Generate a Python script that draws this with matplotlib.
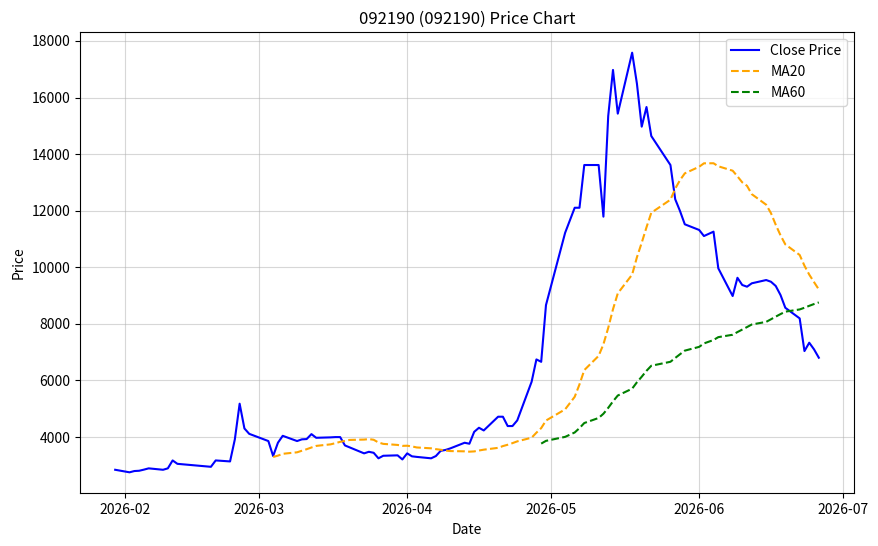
import matplotlib
matplotlib.use("Agg")
import matplotlib.pyplot as plt
import matplotlib.dates as mdates
import pandas as pd

plt.rcParams['font.family'] = ['Noto Sans CJK KR', 'DejaVu Sans']

dates = [
    "2026-01-30", "2026-02-02", "2026-02-03", "2026-02-04", "2026-02-05", "2026-02-06",
    "2026-02-09", "2026-02-10", "2026-02-11", "2026-02-12", "2026-02-13",
    "2026-02-19", "2026-02-20", "2026-02-23", "2026-02-24", "2026-02-25", "2026-02-26", "2026-02-27",
    "2026-03-03", "2026-03-04", "2026-03-05", "2026-03-06",
    "2026-03-09", "2026-03-10", "2026-03-11", "2026-03-12", "2026-03-13",
    "2026-03-16", "2026-03-17", "2026-03-18", "2026-03-19", "2026-03-20",
    "2026-03-23", "2026-03-24", "2026-03-25", "2026-03-26", "2026-03-27",
    "2026-03-30", "2026-03-31", "2026-04-01", "2026-04-02", "2026-04-03",
    "2026-04-06", "2026-04-07", "2026-04-08", "2026-04-09", "2026-04-10",
    "2026-04-13", "2026-04-14", "2026-04-15", "2026-04-16", "2026-04-17",
    "2026-04-20", "2026-04-21", "2026-04-22", "2026-04-23", "2026-04-24",
    "2026-04-27", "2026-04-28", "2026-04-29", "2026-04-30",
    "2026-05-04", "2026-05-06", "2026-05-07", "2026-05-08",
    "2026-05-11", "2026-05-12", "2026-05-13", "2026-05-14", "2026-05-15",
    "2026-05-18", "2026-05-19", "2026-05-20", "2026-05-21", "2026-05-22",
    "2026-05-26", "2026-05-27", "2026-05-28", "2026-05-29",
    "2026-06-01", "2026-06-02", "2026-06-04", "2026-06-05",
    "2026-06-08", "2026-06-09", "2026-06-10", "2026-06-11", "2026-06-12",
    "2026-06-15", "2026-06-16", "2026-06-17", "2026-06-18", "2026-06-19",
    "2026-06-22", "2026-06-23", "2026-06-24", "2026-06-25", "2026-06-26",
]

close = [
    2845, 2755, 2800, 2810, 2850, 2895,
    2845, 2895, 3175, 3055, 3040,
    2950, 3175, 3140, 3920, 5180, 4305, 4115,
    3860, 3330, 3800, 4045,
    3860, 3920, 3930, 4105, 3975,
    3990, 4000, 4000, 3705, 3635,
    3425, 3480, 3445, 3250, 3340,
    3355, 3210, 3425, 3320, 3300,
    3250, 3330, 3515, 3545, 3600,
    3800, 3765, 4185, 4330, 4235,
    4720, 4720, 4390, 4390, 4590,
    5955, 6745, 6660, 8665,
    11220, 12105, 12105, 13615,
    13615, 11790, 15345, 16975, 15430,
    17585, 16490, 14970, 15665, 14640,
    13615, 12405, 11990, 11520,
    11320, 11105, 11260, 9965,
    8985, 9630, 9375, 9315, 9435,
    9550, 9490, 9340, 9020, 8570,
    8195, 7040, 7335, 7100, 6805,
]

ma_windows = [20, 60]

df = pd.DataFrame({"Close": close}, index=pd.to_datetime(dates))
for w in ma_windows:
    df[f"MA{w}"] = df["Close"].rolling(w).mean()

fig = plt.figure(figsize=(8.79, 5.46), dpi=100)
ax = fig.add_axes([80 / 879, (546 - 493.3) / 546, (854 - 80) / 879, (493.3 - 31.7) / 546])

ax.plot(df.index, df["Close"], color="blue", label="Close Price", linewidth=1.5)
ax.plot(df.index, df["MA20"], color="orange", linestyle="--", label="MA20", linewidth=1.5)
ax.plot(df.index, df["MA60"], color="green", linestyle="--", label="MA60", linewidth=1.5)

ax.set_title("092190 (092190) Price Chart", fontsize=12)
ax.set_xlabel("Date", fontsize=10)
ax.set_ylabel("Price", fontsize=10)
ax.xaxis.set_major_locator(mdates.MonthLocator())
ax.xaxis.set_major_formatter(mdates.DateFormatter("%Y-%m"))
ax.grid(True, alpha=0.5)
ax.legend(loc="upper right")

fig.savefig("out.png", dpi=100)
